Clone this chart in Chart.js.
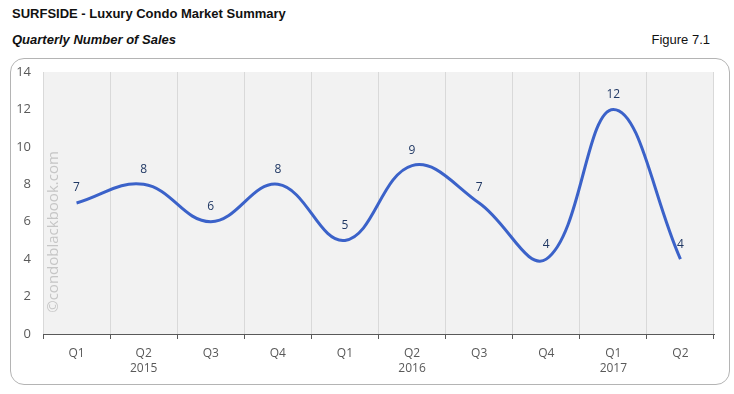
<!DOCTYPE html>
<html>
<head>
<meta charset="utf-8">
<script src="https://cdn.jsdelivr.net/npm/chart.js@4"></script>
<style>
  body { margin: 0; width: 734px; height: 394px; background: #fff; position: relative; overflow: hidden; }
  .title { position: absolute; left: 12px; top: 6px; font: bold 13px "Liberation Sans", Arial, sans-serif; color: #111; }
  .subtitle { position: absolute; left: 12px; top: 32px; font: italic bold 13px "Liberation Sans", Arial, sans-serif; color: #111; }
  .figure { position: absolute; right: 24px; top: 32px; font: 13px "Liberation Sans", Arial, sans-serif; color: #111; }
  .box { position: absolute; left: 10px; top: 58px; width: 718px; height: 325px; border: 1px solid #b4b4b4; border-radius: 14px; }
  #chart { position: absolute; left: 0; top: 0; }
</style>
</head>
<body>
<div class="title">SURFSIDE - Luxury Condo Market Summary</div>
<div class="subtitle">Quarterly Number of Sales</div>
<div class="figure">Figure 7.1</div>
<div class="box"></div>
<canvas id="chart" width="734" height="394"></canvas>
<script>
// quarters and the number of sales in each
const quarters = [['Q1'], ['Q2', '2015'], ['Q3'], ['Q4'], ['Q1'], ['Q2', '2016'], ['Q3'], ['Q4'], ['Q1', '2017'], ['Q2']];
const sales = [7, 8, 6, 8, 5, 9, 7, 4, 12, 4];
const yTicks = [0, 2, 4, 6, 8, 10, 12, 14];

// grey plot background and the vertical watermark
const backgroundPlugin = {
    id: 'plotBackground',
    beforeDraw(chart) {
        const { ctx, chartArea } = chart;
        ctx.save();
        ctx.fillStyle = '#f2f2f2';
        ctx.fillRect(chartArea.left, chartArea.top, chartArea.right - chartArea.left, chartArea.bottom - chartArea.top);
        ctx.restore();
    },
    afterDraw(chart) {
        const { ctx } = chart;
        ctx.save();
        ctx.translate(54, 232);
        ctx.rotate(-Math.PI / 2);
        ctx.fillStyle = '#c6c6c6';
        ctx.font = '15px "Open Sans", sans-serif';
        ctx.textAlign = 'center';
        ctx.textBaseline = 'middle';
        ctx.fillText('\u00a9condoblackbook.com', 0, 0);
        ctx.restore();
    }
};

// value labels above each point
const valueLabels = {
    id: 'valueLabels',
    afterDatasetsDraw(chart) {
        const { ctx } = chart;
        const meta = chart.getDatasetMeta(0);
        ctx.save();
        ctx.fillStyle = '#203864';
        ctx.font = '12px "Open Sans", sans-serif';
        ctx.textAlign = 'center';
        ctx.textBaseline = 'bottom';
        meta.data.forEach((pt, i) => {
            ctx.fillText(String(sales[i]), pt.x, pt.y - 9);
        });
        ctx.restore();
    }
};

new Chart(document.getElementById('chart'), {
    type: 'line',
    data: {
        labels: quarters,
        datasets: [{
            data: sales,
            borderColor: '#3b62c9',
            borderWidth: 3,
            tension: 0.4,
            pointRadius: 0,
            fill: false
        }]
    },
    options: {
        responsive: false,
        animation: false,
        layout: { padding: { left: 10, right: 20, top: 72, bottom: 14 } },
        plugins: { legend: { display: false }, tooltip: { enabled: false } },
        scales: {
            x: {
                offset: true,
                grid: { offset: true, color: '#d9d9d9', tickColor: '#595959', tickLength: 5, drawOnChartArea: true },
                border: { color: '#595959', width: 1 },
                ticks: { color: '#595959', font: { family: 'Open Sans', size: 12, lineHeight: 1.25 }, padding: 7, maxRotation: 0, autoSkip: false },
                afterFit(scale) { scale.height = 46; }
            },
            y: {
                min: 0,
                max: 14,
                afterBuildTicks(scale) { scale.ticks = yTicks.map(v => ({ value: v })); },
                grid: { display: false },
                border: { display: false },
                ticks: { color: '#595959', font: { family: 'Open Sans', size: 13 }, padding: 4 },
                afterFit(scale) { scale.width = 33; }
            }
        }
    },
    plugins: [backgroundPlugin, valueLabels]
});
</script>
</body>
</html>
